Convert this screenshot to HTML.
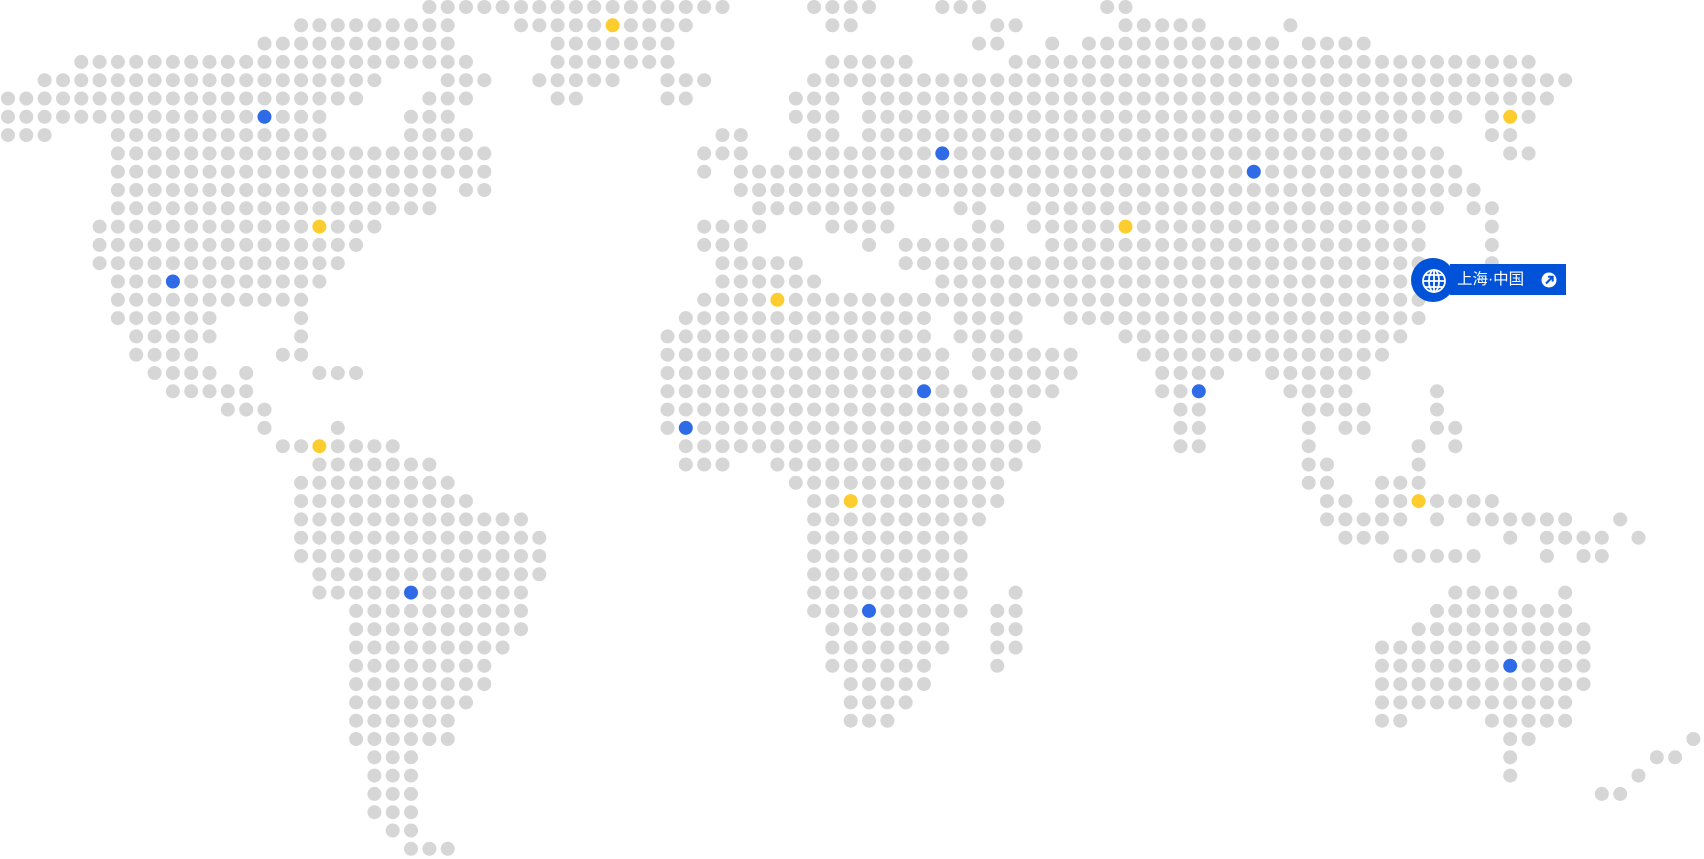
<!DOCTYPE html>
<html><head><meta charset="utf-8"><style>
html,body{margin:0;padding:0;background:#fff;}
#wrap{position:relative;width:1704px;height:859px;overflow:hidden;background:#fff;}
svg{position:absolute;left:0;top:0;}
#label{position:absolute;left:1450px;top:264px;width:116px;height:31px;background:#0052d9;}
#lc{position:absolute;left:1411px;top:258px;width:44px;height:44px;border-radius:50%;background:#0052d9;}
#lt{position:absolute;left:1457px;top:264px;height:31px;line-height:31px;color:#fff;font-size:15.5px;font-family:"Liberation Sans","Noto Sans CJK SC",sans-serif;white-space:nowrap;}
</style></head><body><div id="wrap">
<svg id="map" width="1704" height="859" viewBox="0 0 1704 859"></svg>
<div id="lc"></div><div id="label"></div>
<svg width="1704" height="859" viewBox="0 0 1704 859" style="pointer-events:none">
<g fill="none" stroke="#fff" stroke-width="1.8">
<circle cx="1434" cy="281" r="11"/>
<ellipse cx="1434" cy="281" rx="5" ry="11"/>
<line x1="1434" y1="270" x2="1434" y2="292"/>
<line x1="1423" y1="281" x2="1445" y2="281"/>
<line x1="1425" y1="275" x2="1443" y2="275"/>
<line x1="1425" y1="287" x2="1443" y2="287"/>
</g>
<circle cx="1549" cy="280" r="7.5" fill="#fff"/>
<path d="M1546 283.5 L1552.5 277" stroke="#0052d9" stroke-width="2" fill="none"/>
<path d="M1548 276.8 H1552.7 V281.5" stroke="#0052d9" stroke-width="2" fill="none"/>
</svg>
<div id="lt">上海·中国</div>
</div>
<script>
var rows=[
"23-39,44-47,51-53,60-61",
"16-24,28-37,45-46,54-55,61-65,70",
"14-24,30-36,53-54,57,59-69,71-74",
"4-25,30-36,45-49,55-83",
"2-20,24-26,29-33,36-38,44-85",
"0-19,23-25,30-31,36-37,43-45,47-84",
"0-17,22-24,43-45,47-79,81-83",
"0-2,6-17,22-25,39-40,44-45,47-76,81-82",
"6-26,38-40,43-78,82-83",
"6-26,38,40-79",
"6-23,25-26,40-80",
"6-23,41-48,52-53,56-78,80-81",
"5-20,38-41,45-48,53-54,56-77,81",
"5-19,38-40,47,49-54,57-77,81",
"5-18,39-43,49-77,81",
"6-17,39-44,51-77",
"6-16,38-77",
"6-11,16,37-50,52-55,58-77",
"7-11,16,36-50,52-55,61-76",
"7-10,15-16,36-51,53-58,62-75",
"8-11,13,17-19,36-51,53-58,63-66,69-74",
"9-13,36-52,54-57,63-65,70-73,78",
"12-14,36-55,64-65,71-74,78",
"14,18,36-56,64-65,71,73-74,78-79",
"15-21,37-56,64-65,71,77,79",
"17-23,37-39,42-55,71-72,77",
"16-24,43-54,71-72,75-77",
"16-25,44-54,72-73,75-81",
"16-28,44-53,72-76,78,80-85,88",
"16-29,44-52,73-75,82,84-87,89",
"16-29,44-52,76-80,84,86-87",
"17-29,44-52",
"17-28,44-52,55,79-82,85",
"19-28,44-52,54-55,78-85",
"19-28,45-51,54-55,77-86",
"19-27,45-51,54-55,75-86",
"19-26,45-50,54,75-86",
"19-26,46-50,75-86",
"19-25,46-49,75-85",
"19-24,46-48,75-76,81-85",
"19-24,82-83,92",
"20-22,82,90-91",
"20-22,82,89",
"20-22,87-88",
"20-22",
"21-22",
"22-24"];
var blue={"6,14":1,"8,51":1,"9,68":1,"15,9":1,"21,50":1,"21,65":1,"23,37":1,"32,22":1,"33,47":1,"36,82":1};
var yel={"1,33":1,"6,82":1,"12,17":1,"12,61":1,"16,42":1,"24,17":1,"27,46":1,"27,77":1};
var s="";
for(var r=0;r<rows.length;r++){
 var parts=rows[r].split(",");
 for(var i=0;i<parts.length;i++){
  var p=parts[i].split("-");var a=+p[0],b=p.length>1?+p[1]:a;
  for(var c=a;c<=b;c++){
   var k=r+","+c;var f=blue[k]?"#2f6be6":(yel[k]?"#fdcd2f":"#d6d6d6");
   s+='<circle cx="'+(8+18.32*c).toFixed(1)+'" cy="'+(7+18.3*r).toFixed(1)+'" r="7" fill="'+f+'"/>';
  }
 }
}
document.getElementById("map").innerHTML=s;
</script>
</body></html>
